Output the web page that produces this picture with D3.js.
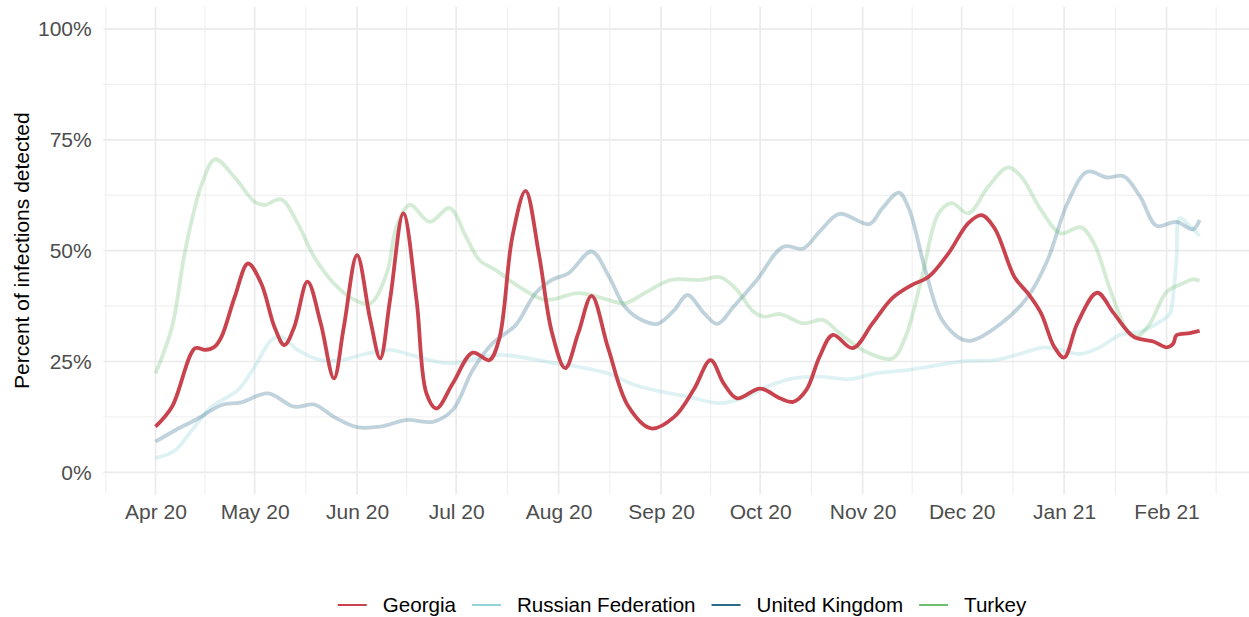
<!DOCTYPE html>
<html>
<head>
<meta charset="utf-8">
<script src="https://cdn.jsdelivr.net/npm/d3@7"></script>
<style>
  body { margin: 0; background: #fff; }
  text { font-family: "Liberation Sans", Arial, sans-serif; }
</style>
</head>
<body>
<svg id="chart" width="1249" height="617"></svg>
<script>
var countries = ['Georgia', 'Russian Federation', 'United Kingdom', 'Turkey'];
var colors = ['#c8434d', '#93d3dc', '#2d6a8c', '#6fbf73'];
var yTicks = [0, 25, 50, 75, 100];

// percent of infections detected
var georgia = [
  ['2020-04-01', 10.3], ['2020-04-06', 14.8], ['2020-04-13', 28.0], ['2020-04-16', 27.6],
  ['2020-04-19', 28.4], ['2020-04-21', 30.6], ['2020-04-25', 39.6], ['2020-04-29', 47.1],
  ['2020-05-03', 42.6], ['2020-05-07', 32.8], ['2020-05-10', 28.7], ['2020-05-13', 32.8],
  ['2020-05-17', 43.0], ['2020-05-21', 33.6], ['2020-05-25', 21.2], ['2020-05-28', 32.8],
  ['2020-06-01', 49.0], ['2020-06-05', 34.4], ['2020-06-08', 25.7], ['2020-06-11', 39.0],
  ['2020-06-15', 58.4], ['2020-06-19', 38.9], ['2020-06-22', 17.8], ['2020-06-25', 14.4],
  ['2020-06-30', 20.1], ['2020-07-06', 27.0], ['2020-07-11', 25.3], ['2020-07-14', 30.0],
  ['2020-07-18', 53.1], ['2020-07-22', 63.5], ['2020-07-26', 49.4], ['2020-07-30', 31.5],
  ['2020-08-03', 23.5], ['2020-08-07', 31.5], ['2020-08-11', 39.8], ['2020-08-16', 28.0],
  ['2020-08-22', 15.0], ['2020-08-29', 9.9], ['2020-09-05', 12.5], ['2020-09-11', 18.8],
  ['2020-09-16', 25.3], ['2020-09-20', 20.0], ['2020-09-24', 16.7], ['2020-10-01', 18.9],
  ['2020-10-07', 16.7], ['2020-10-11', 15.9], ['2020-10-15', 18.6], ['2020-10-19', 26.1],
  ['2020-10-23', 31.0], ['2020-10-29', 28.0], ['2020-11-04', 33.6], ['2020-11-10', 39.3],
  ['2020-11-16', 42.3], ['2020-11-21', 44.1], ['2020-11-27', 49.4], ['2020-12-03', 56.2],
  ['2020-12-07', 58.0], ['2020-12-11', 55.0], ['2020-12-17', 44.0], ['2020-12-21', 40.4],
  ['2020-12-25', 35.9], ['2020-12-29', 28.3], ['2021-01-01', 25.9], ['2021-01-05', 33.6],
  ['2021-01-11', 40.5], ['2021-01-16', 35.9], ['2021-01-22', 30.6], ['2021-01-28', 29.5],
  ['2021-02-01', 28.2], ['2021-02-03', 29.0], ['2021-02-04', 30.9], ['2021-02-08', 31.4],
  ['2021-02-11', 31.9]
];

var russia = [
  ['2020-04-01', 3.2], ['2020-04-07', 5.0], ['2020-04-12', 9.5], ['2020-04-18', 14.8],
  ['2020-04-26', 18.6], ['2020-05-01', 23.8], ['2020-05-06', 29.8], ['2020-05-09', 30.6],
  ['2020-05-14', 27.6], ['2020-05-21', 25.3], ['2020-05-27', 25.3], ['2020-06-04', 26.8],
  ['2020-06-11', 27.6], ['2020-06-19', 26.1], ['2020-06-26', 24.8], ['2020-06-30', 24.6],
  ['2020-07-14', 26.5], ['2020-07-30', 24.7], ['2020-08-07', 23.8], ['2020-08-16', 22.3],
  ['2020-08-24', 19.7], ['2020-09-01', 18.2], ['2020-09-09', 17.1], ['2020-09-19', 15.6],
  ['2020-09-27', 17.1], ['2020-10-03', 19.3], ['2020-10-11', 21.2], ['2020-10-19', 21.6],
  ['2020-10-28', 21.0], ['2020-11-05', 22.3], ['2020-11-15', 23.1], ['2020-11-24', 24.2],
  ['2020-12-02', 25.1], ['2020-12-11', 25.3], ['2020-12-19', 26.8], ['2020-12-26', 28.2],
  ['2020-12-31', 27.6], ['2021-01-06', 26.7], ['2021-01-12', 28.3], ['2021-01-18', 31.0],
  ['2021-01-24', 31.7], ['2021-01-30', 34.0], ['2021-02-02', 35.8], ['2021-02-03', 40.0],
  ['2021-02-04', 48.0], ['2021-02-05', 57.3], ['2021-02-08', 55.6], ['2021-02-11', 53.3]
];

var uk = [
  ['2020-04-01', 6.9], ['2020-04-07', 9.5], ['2020-04-14', 12.2], ['2020-04-21', 15.2],
  ['2020-04-27', 15.8], ['2020-05-05', 17.8], ['2020-05-13', 14.8], ['2020-05-19', 15.3],
  ['2020-05-25', 12.5], ['2020-06-01', 10.2], ['2020-06-08', 10.3], ['2020-06-16', 11.8],
  ['2020-06-24', 11.4], ['2020-06-30', 14.1], ['2020-07-06', 23.1], ['2020-07-12', 29.1],
  ['2020-07-19', 33.2], ['2020-07-25', 40.4], ['2020-07-30', 43.4], ['2020-08-04', 44.9],
  ['2020-08-11', 49.8], ['2020-08-16', 44.5], ['2020-08-21', 37.4], ['2020-08-26', 34.4],
  ['2020-08-31', 33.5], ['2020-09-05', 36.6], ['2020-09-09', 40.0], ['2020-09-14', 35.9],
  ['2020-09-18', 33.5], ['2020-09-23', 37.4], ['2020-09-30', 43.4], ['2020-10-08', 50.9],
  ['2020-10-14', 50.5], ['2020-10-19', 54.3], ['2020-10-25', 58.3], ['2020-11-03', 56.0],
  ['2020-11-07', 59.6], ['2020-11-12', 63.1], ['2020-11-15', 59.5], ['2020-11-20', 45.6],
  ['2020-11-25', 34.4], ['2020-12-01', 30.0], ['2020-12-04', 29.7], ['2020-12-13', 33.6],
  ['2020-12-21', 39.6], ['2020-12-27', 47.9], ['2021-01-02', 60.7], ['2021-01-08', 67.8],
  ['2021-01-14', 66.5], ['2021-01-19', 66.8], ['2021-01-24', 62.2], ['2021-01-29', 55.6],
  ['2021-02-04', 56.5], ['2021-02-09', 54.8], ['2021-02-11', 56.9]
];

var turkey = [
  ['2020-04-01', 22.3], ['2020-04-06', 32.8], ['2020-04-10', 50.1], ['2020-04-15', 65.0],
  ['2020-04-19', 70.6], ['2020-04-25', 66.5], ['2020-05-01', 61.0], ['2020-05-04', 60.3],
  ['2020-05-09', 61.6], ['2020-05-14', 56.2], ['2020-05-19', 48.6], ['2020-05-25', 42.6],
  ['2020-05-31', 39.0], ['2020-06-05', 38.1], ['2020-06-10', 44.9], ['2020-06-13', 55.5],
  ['2020-06-17', 60.3], ['2020-06-23', 56.5], ['2020-06-29', 59.6], ['2020-07-04', 53.1],
  ['2020-07-08', 47.9], ['2020-07-13', 45.6], ['2020-07-20', 41.9], ['2020-07-28', 38.9],
  ['2020-08-07', 40.4], ['2020-08-16', 38.9], ['2020-08-21', 38.1], ['2020-08-27', 40.4],
  ['2020-09-04', 43.4], ['2020-09-13', 43.4], ['2020-09-19', 44.0], ['2020-09-24', 41.1],
  ['2020-09-29', 36.2], ['2020-10-02', 35.1], ['2020-10-07', 35.7], ['2020-10-14', 33.6],
  ['2020-10-20', 34.4], ['2020-10-25', 31.4], ['2020-11-02', 27.2], ['2020-11-10', 25.7],
  ['2020-11-14', 30.6], ['2020-11-19', 44.1], ['2020-11-24', 58.4], ['2020-11-28', 60.7],
  ['2020-12-03', 58.4], ['2020-12-09', 64.4], ['2020-12-15', 68.8], ['2020-12-19', 66.7],
  ['2020-12-25', 59.2], ['2020-12-31', 53.9], ['2021-01-06', 55.3], ['2021-01-10', 51.7],
  ['2021-01-15', 41.1], ['2021-01-20', 32.1], ['2021-01-23', 30.6], ['2021-01-27', 33.6],
  ['2021-02-01', 40.7], ['2021-02-05', 42.3], ['2021-02-09', 43.5], ['2021-02-11', 43.2]
];

var seriesValues = [georgia, russia, uk, turkey];

var parse = d3.utcParse('%Y-%m-%d');
var series = countries.map(function (name, i) {
  return {
    name: name,
    color: colors[i],
    values: seriesValues[i].map(function (d) { return { date: parse(d[0]), value: d[1] }; })
  };
});

var svg = d3.select('#chart');

var panel = { left: 103.3, right: 1251.8, top: 6.8, bottom: 494.5 };

// ggplot style 5% expansion on both axes
var allDates = [].concat.apply([], series.map(function (s) { return s.values.map(function (d) { return d.date; }); }));
var ext = d3.extent(allDates);
var pad = (ext[1] - ext[0]) * 0.05;
var x = d3.scaleUtc()
  .domain([new Date(+ext[0] - pad), new Date(+ext[1] + pad)])
  .range([panel.left, panel.right]);

var y = d3.scaleLinear()
  .domain([-5, 105])
  .range([panel.bottom, panel.top]);

var xMajor = d3.utcMonth.range(d3.utcMonth.ceil(x.domain()[0]), x.domain()[1]);
var step = xMajor[1] - xMajor[0];
var xExt = [new Date(+xMajor[0] - step)].concat(xMajor, [new Date(+xMajor[xMajor.length - 1] + step)]);
var xMinor = d3.pairs(xExt).map(function (p) { return new Date((+p[0] + +p[1]) / 2); })
  .filter(function (d) { return d >= x.domain()[0] && d <= x.domain()[1]; });
var yMinor = d3.pairs(yTicks).map(function (p) { return (p[0] + p[1]) / 2; });

var grid = svg.append('g');

grid.selectAll('.ymin').data(yMinor).enter().append('line')
  .attr('x1', panel.left).attr('x2', panel.right)
  .attr('y1', function (d) { return y(d); }).attr('y2', function (d) { return y(d); })
  .attr('stroke', '#ebebeb').attr('stroke-width', 0.9);

grid.selectAll('.xmin').data(xMinor).enter().append('line')
  .attr('y1', panel.top).attr('y2', panel.bottom)
  .attr('x1', function (d) { return x(d); }).attr('x2', function (d) { return x(d); })
  .attr('stroke', '#ebebeb').attr('stroke-width', 0.9);

grid.selectAll('.ymaj').data(yTicks).enter().append('line')
  .attr('x1', panel.left).attr('x2', panel.right)
  .attr('y1', function (d) { return y(d); }).attr('y2', function (d) { return y(d); })
  .attr('stroke', '#ebebeb').attr('stroke-width', 1.7);

grid.selectAll('.xmaj').data(xMajor).enter().append('line')
  .attr('y1', panel.top).attr('y2', panel.bottom)
  .attr('x1', function (d) { return x(d); }).attr('x2', function (d) { return x(d); })
  .attr('stroke', '#ebebeb').attr('stroke-width', 1.7);

// axes without domain lines or tick marks
var yAxis = svg.append('g')
  .attr('transform', 'translate(' + (panel.left - 11.6) + ',0)')
  .call(d3.axisLeft(y).tickValues(yTicks).tickSize(0).tickPadding(0)
    .tickFormat(function (d) { return d + '%'; }));
yAxis.select('.domain').remove();
yAxis.selectAll('text').attr('fill', '#4d4d4d').style('font-size', '21px')
  .style('font-family', '"Liberation Sans", Arial, sans-serif');

var xAxis = svg.append('g')
  .attr('transform', 'translate(0,' + (panel.bottom + 10) + ')')
  .call(d3.axisBottom(x).tickValues(xMajor).tickSize(0).tickPadding(0)
    .tickFormat(d3.utcFormat('%b %y')));
xAxis.select('.domain').remove();
xAxis.selectAll('text').attr('fill', '#4d4d4d').style('font-size', '21px')
  .style('font-family', '"Liberation Sans", Arial, sans-serif');

svg.append('text')
  .attr('transform', 'translate(29,' + ((panel.top + panel.bottom) / 2) + ') rotate(-90)')
  .attr('text-anchor', 'middle')
  .style('font-size', '21px')
  .attr('fill', '#000')
  .text('Percent of infections detected');

var line = d3.line()
  .x(function (d) { return x(d.date); })
  .y(function (d) { return y(d.value); })
  .curve(d3.curveCatmullRom.alpha(0.5));

var drawOrder = series.slice(1).concat([series[0]]);
svg.append('g').selectAll('path').data(drawOrder).enter().append('path')
  .attr('d', function (d) { return line(d.values); })
  .attr('fill', 'none')
  .attr('stroke', function (d) { return d.color; })
  .attr('stroke-opacity', function (d) { return d.name === 'Georgia' ? 1 : 0.3; })
  .attr('stroke-width', 3.8)
  .attr('stroke-linejoin', 'round')
  .attr('stroke-linecap', 'butt');

var legend = svg.append('g').attr('transform', 'translate(337.7,605)');
var pos = 0;
series.forEach(function (s) {
  legend.append('line')
    .attr('x1', pos).attr('x2', pos + 29)
    .attr('y1', 0).attr('y2', 0)
    .attr('stroke', s.color).attr('stroke-width', 2);
  var t = legend.append('text')
    .attr('x', pos + 45).attr('y', 0).attr('dy', '0.35em')
    .style('font-size', '20.6px')
    .attr('fill', '#000')
    .text(s.name);
  pos += 45 + t.node().getComputedTextLength() + 16;
});
</script>
</body>
</html>
